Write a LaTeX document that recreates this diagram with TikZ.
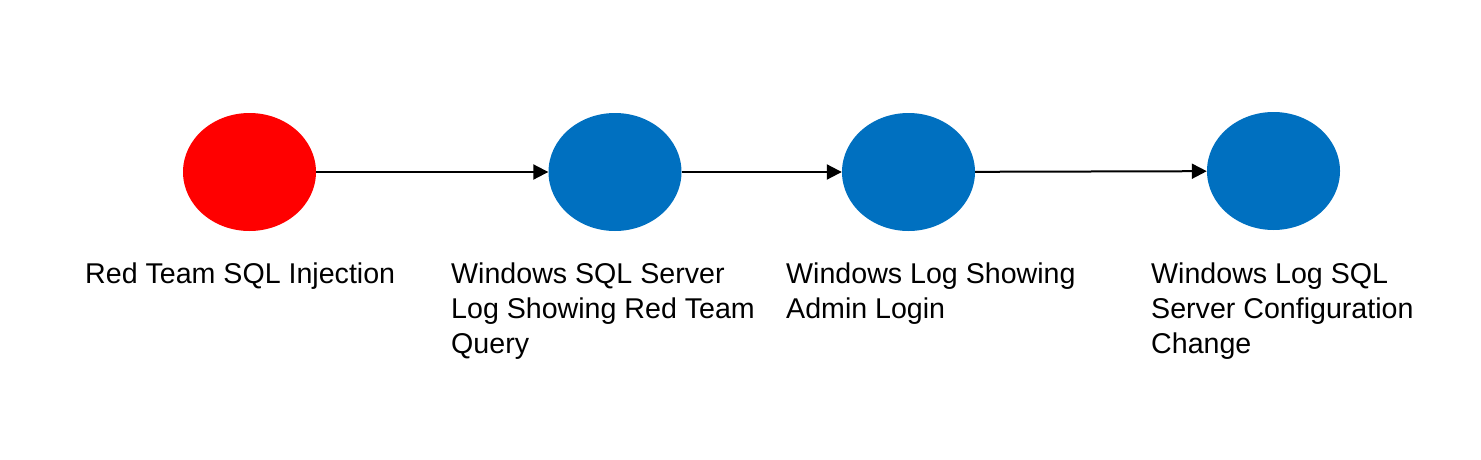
\documentclass[tikz,border=0pt]{standalone}
\usepackage{fontspec}
\setmainfont{Liberation Sans}
\usetikzlibrary{shapes.geometric,arrows.meta}
\definecolor{redteam}{HTML}{FF0000}
\definecolor{logblue}{HTML}{0070C0}
\begin{document}
\begin{tikzpicture}[x=1pt,y=-1pt,font=\fontsize{28.6}{35}\selectfont]
  \tikzstyle{event node}=[ellipse,minimum width=133pt,minimum height=118pt,inner sep=0]
  \tikzstyle{caption}=[anchor=base west,align=left,inner sep=0]
  \tikzstyle{link}=[line width=2pt,-{Triangle[length=15pt,width=15pt]}]
  \useasboundingbox (0,0) rectangle (1481,460);
  \node(0)[event node,fill=redteam] at (249.5,172) {};
  \node(1)[event node,fill=logblue] at (615,172) {};
  \node(2)[event node,fill=logblue] at (908.5,172) {};
  \node(3)[event node,fill=logblue] at (1273.5,171) {};
  % base anchor sits on the last line
  \node(c0)[caption] at (85,283) {Red Team SQL Injection};
  \node(c1)[caption] at (451,353) {Windows SQL Server\\Log Showing Red Team\\Query};
  \node(c2)[caption] at (786,318) {Windows Log Showing\\Admin Login};
  \node(c3)[caption] at (1151,353) {Windows Log SQL\\Server Configuration\\Change};
  \draw[link] (0) -- (1);
  \draw[link] (1) -- (2);
  \draw[link] (2) -- (3);
\end{tikzpicture}
\end{document}
